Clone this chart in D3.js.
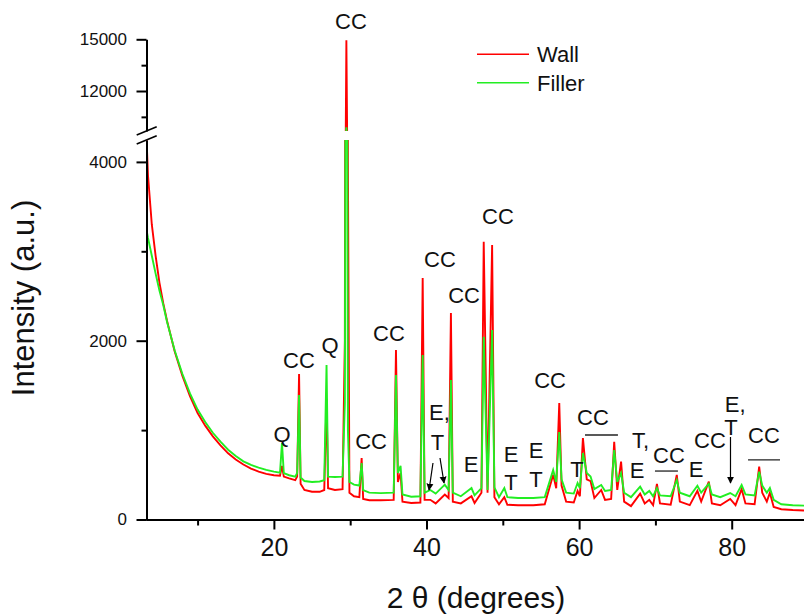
<html>
<head>
<script src="https://cdn.jsdelivr.net/npm/d3@7"></script>
<style>
  body { margin: 0; background: #fff; }
  text { font-family: Arial, "Liberation Sans", sans-serif; fill: #111; }
</style>
</head>
<body>
<div id="chart"></div>
<script>
// XRD patterns, [2 theta, intensity]
var wall = [
  [3.2,4500],[3.5,3850],[4.0,3300],[4.5,2950],[5.0,2650],[5.5,2420],[6.0,2220],[7.0,1880],[8.0,1610],[9.0,1380],
  [10.0,1190],[11.0,1050],[12.0,930],[13.0,830],[14.0,740],[15.0,670],[16.0,615],[17.0,570],[18.0,535],[19.0,510],
  [20.0,495],[20.8,490],[21.06,600],[21.3,480],[22.0,460],[22.8,440],[23.05,480],[23.3,1627],[23.5,400],[24.0,330],
  [25.0,310],[26.0,310],[26.6,330],[26.9,1350],[27.1,350],[28.0,330],[29.0,340],[29.3,2000],[29.5,14950],[29.7,4000],
  [29.9,300],[30.5,260],[31.2,250],[31.5,688],[31.7,230],[32.5,215],[34.0,215],[35.7,220],[36.0,1896],[36.25,420],
  [36.6,520],[36.85,200],[38.0,184],[39.2,190],[39.5,2701],[39.75,220],[40.5,220],[41.2,180],[42.4,280],[42.9,240],
  [43.2,2310],[43.45,200],[44.5,180],[45.9,260],[46.3,185],[47.2,300],[47.5,3107],[48.0,300],[48.6,3070],[48.9,250],
  [49.5,170],[50.2,250],[50.6,165],[52.0,160],[54.0,160],[55.5,170],[56.6,500],[57.0,350],[57.4,1303],[57.7,380],
  [58.3,200],[59.3,190],[59.8,320],[60.1,260],[60.5,911],[61.0,450],[61.5,430],[62.0,240],[62.9,330],[63.4,220],
  [64.2,230],[64.6,870],[65.0,330],[65.5,647],[65.9,200],[66.8,150],[68.0,290],[68.6,180],[69.2,220],[69.7,160],
  [70.2,397],[70.6,180],[72.0,165],[72.8,498],[73.2,200],[74.5,160],[75.5,320],[76.0,200],[77.0,423],[77.4,180],
  [78.5,160],[79.8,230],[80.5,160],[81.3,340],[81.8,180],[83.0,170],[83.6,591],[84.0,300],[84.6,200],[85.0,300],
  [85.5,140],[86.5,115],[88.0,106],[89.5,100]
];
var filler = [
  [3.2,3290],[3.5,3150],[4.0,2950],[4.5,2750],[5.0,2560],[5.5,2400],[6.0,2210],[7.0,1890],[8.0,1630],[9.0,1410],
  [10.0,1230],[11.0,1090],[12.0,970],[13.0,870],[14.0,780],[15.0,710],[16.0,650],[17.0,610],[18.0,580],[19.0,555],
  [20.0,535],[20.8,525],[21.06,855],[21.3,520],[22.0,495],[22.8,480],[23.05,520],[23.3,1392],[23.5,470],[24.0,430],
  [25.0,420],[26.0,425],[26.6,440],[26.9,1728],[27.1,480],[28.0,475],[29.0,480],[29.3,1300],[29.5,9900],[29.7,1000],
  [29.9,420],[30.5,390],[31.2,380],[31.5,632],[31.7,330],[32.5,300],[34.0,295],[35.7,300],[36.0,1616],[36.25,520],
  [36.6,600],[36.85,280],[38.0,255],[39.2,260],[39.5,1840],[39.75,300],[40.5,330],[41.2,290],[42.4,390],[42.9,330],
  [43.2,1560],[43.45,300],[44.5,260],[45.9,352],[46.3,270],[47.2,350],[47.5,2045],[48.0,330],[48.6,2120],[48.9,360],
  [49.5,250],[50.2,352],[50.6,250],[52.0,240],[54.0,240],[55.5,250],[56.6,553],[57.0,420],[57.4,979],[57.7,450],
  [58.3,300],[59.3,290],[59.8,408],[60.1,350],[60.5,744],[61.0,520],[61.5,480],[62.0,340],[62.9,386],[63.4,320],
  [64.2,330],[64.6,777],[65.0,420],[65.5,520],[65.9,300],[66.8,250],[68.0,367],[68.6,280],[69.2,320],[69.7,260],
  [70.2,352],[70.6,270],[72.0,260],[72.8,442],[73.2,300],[74.5,260],[75.5,378],[76.0,300],[77.0,400],[77.4,280],
  [78.5,250],[79.8,296],[80.5,260],[81.3,386],[81.8,280],[83.0,270],[83.6,535],[84.0,380],[84.6,300],[85.0,352],
  [85.5,220],[86.5,170],[88.0,160],[89.5,155]
];

var xTicks = [20, 40, 60, 80];
var xMinor = [10, 30, 50, 70];
var yLowTicks = [0, 2000, 4000];
var yLowMinor = [1000, 3000];
var yHighTicks = [12000, 15000];
var yHighMinor = [10500, 13500];

// phase labels: text, 2theta, intensity, which y segment, anchor
var labels = [
  ["CC", 30.1, 15600, "high", "middle"],
  ["Q", 21.06, 867, "low", "middle"],
  ["CC", 23.29, 1695, "low", "middle"],
  ["Q", 27.35, 1862, "low", "middle"],
  ["CC", 32.73, 789, "low", "middle"],
  ["CC", 35.08, 1997, "low", "middle"],
  ["E,", 40.33, 1113, "low", "start"],
  ["T", 41.44, 777, "low", "middle"],
  ["CC", 41.77, 2824, "low", "middle"],
  ["CC", 44.92, 2422, "low", "middle"],
  ["E", 45.83, 531, "low", "middle"],
  ["CC", 49.37, 3305, "low", "middle"],
  ["E", 51.08, 643, "low", "middle"],
  ["T", 51.08, 330, "low", "middle"],
  ["E", 54.35, 688, "low", "middle"],
  ["T", 54.35, 364, "low", "middle"],
  ["CC", 56.2, 1471, "low", "middle"],
  ["T", 59.72, 475, "low", "middle"],
  ["CC", 61.82, 1057, "low", "middle"],
  ["T,", 66.93, 800, "low", "start"],
  ["E", 67.59, 464, "low", "middle"],
  ["CC", 71.78, 632, "low", "middle"],
  ["E", 75.32, 475, "low", "middle"],
  ["CC", 77.15, 800, "low", "middle"],
  ["E,", 79.1, 1202, "low", "start"],
  ["T", 79.9, 945, "low", "middle"],
  ["CC", 84.23, 856, "low", "middle"]
];
// bars over grouped CC reflections: from, to, level
var bars = [[60.77, 65.09, 945], [69.94, 72.95, 542], [82.14, 86.33, 666]];
// arrows: from [2theta, I] to [2theta, I]
var arrows = [
  [[40.85, 632], [40.33, 330]],
  [[41.77, 688], [42.3, 408]],
  [[79.84, 923], [79.84, 408]]
];

var width = 804, height = 616;
var svg = d3.select("#chart").append("svg")
  .attr("width", width).attr("height", height);

var x = d3.scaleLinear().domain([3.2, 89.5]).range([145.7, 804.2]);
var yLow = d3.scaleLinear().domain([0, 4245]).range([519.5, 140]);
var yHigh = d3.scaleLinear().domain([9680, 15000]).range([131, 39.3]);

var defs = svg.append("defs");
defs.append("clipPath").attr("id", "clipLow").append("rect")
  .attr("x", 146.5).attr("y", 140).attr("width", 660).attr("height", 380);
defs.append("clipPath").attr("id", "clipHigh").append("rect")
  .attr("x", 146.5).attr("y", 20).attr("width", 660).attr("height", 111);

var series = [
  { name: "Wall", data: wall, color: "#ff0000" },
  { name: "Filler", data: filler, color: "#22ee22" }
];

[["clipLow", yLow], ["clipHigh", yHigh]].forEach(function (seg) {
  var g = svg.append("g").attr("clip-path", "url(#" + seg[0] + ")");
  var line = d3.line().x(function (d) { return x(d[0]); })
    .y(function (d) { return seg[1](d[1]); });
  series.forEach(function (s) {
    g.append("path").datum(s.data)
      .attr("d", line)
      .attr("fill", "none")
      .attr("stroke", s.color)
      .attr("stroke-width", 1.9)
      .attr("stroke-linejoin", "miter");
  });
});

// axes
function styleAxis(g, fontSize) {
  g.selectAll("path, line").attr("stroke", "#000").attr("stroke-width", 2);
  g.selectAll("text").style("font-size", fontSize + "px")
    .style("font-family", "Arial, 'Liberation Sans', sans-serif").attr("fill", "#111");
}

var gx = svg.append("g").attr("transform", "translate(0,519.5)")
  .call(d3.axisBottom(x).tickValues(xTicks).tickSize(10).tickSizeOuter(0).tickPadding(8.5)
    .tickFormat(d3.format("d")));
styleAxis(gx, 25);
var gxm = svg.append("g").attr("transform", "translate(0,519.5)")
  .call(d3.axisBottom(x).tickValues(xMinor).tickSize(6).tickFormat(""));
gxm.select(".domain").remove();
styleAxis(gxm, 25);

var gyl = svg.append("g").attr("transform", "translate(146.5,0)")
  .call(d3.axisLeft(yLow).tickValues(yLowTicks).tickSize(10).tickSizeOuter(0).tickPadding(9.5)
    .tickFormat(d3.format("d")));
styleAxis(gyl, 17);
var gylm = svg.append("g").attr("transform", "translate(146.5,0)")
  .call(d3.axisLeft(yLow).tickValues(yLowMinor).tickSize(5).tickFormat(""));
gylm.select(".domain").remove();
styleAxis(gylm, 17);

var gyh = svg.append("g").attr("transform", "translate(146.5,0)")
  .call(d3.axisLeft(yHigh).tickValues(yHighTicks).tickSize(10).tickSizeOuter(0).tickPadding(9.5)
    .tickFormat(d3.format("d")));
styleAxis(gyh, 17);
var gyhm = svg.append("g").attr("transform", "translate(146.5,0)")
  .call(d3.axisLeft(yHigh).tickValues(yHighMinor).tickSize(5).tickFormat(""));
gyhm.select(".domain").remove();
styleAxis(gyhm, 17);

// axis break marks
svg.append("line").attr("x1", 136.7).attr("y1", 135).attr("x2", 156.7).attr("y2", 126.7)
  .attr("stroke", "#000").attr("stroke-width", 1.6);
svg.append("line").attr("x1", 136.7).attr("y1", 144).attr("x2", 156.7).attr("y2", 135.7)
  .attr("stroke", "#000").attr("stroke-width", 1.6);

// axis titles
svg.append("text").attr("x", 476).attr("y", 608)
  .attr("text-anchor", "middle").style("font-size", "30px")
  .text("2 \u03b8 (degrees)");
svg.append("text").attr("transform", "translate(34,298) rotate(-90)")
  .attr("text-anchor", "middle").style("font-size", "31px")
  .text("Intensity (a.u.)");

// phase labels
svg.selectAll(".lbl").data(labels).enter().append("text")
  .attr("class", "lbl")
  .attr("x", function (d) { return x(d[1]); })
  .attr("y", function (d) { return d[3] === "high" ? yHigh(d[2]) : yLow(d[2]); })
  .attr("text-anchor", function (d) { return d[4]; })
  .style("font-size", "22px")
  .text(function (d) { return d[0]; });

svg.selectAll(".bar").data(bars).enter().append("line")
  .attr("x1", function (d) { return x(d[0]); })
  .attr("x2", function (d) { return x(d[1]); })
  .attr("y1", function (d) { return yLow(d[2]); })
  .attr("y2", function (d) { return yLow(d[2]); })
  .attr("stroke", "#222").attr("stroke-width", 1.3);

defs.append("marker").attr("id", "arrow")
  .attr("viewBox", "0 0 10 10").attr("refX", 9).attr("refY", 5)
  .attr("markerWidth", 7).attr("markerHeight", 9).attr("markerUnits", "userSpaceOnUse")
  .attr("orient", "auto")
  .append("path").attr("d", "M0,0 L10,5 L0,10 Z").attr("fill", "#000");

svg.selectAll(".arr").data(arrows).enter().append("line")
  .attr("x1", function (d) { return x(d[0][0]); })
  .attr("y1", function (d) { return yLow(d[0][1]); })
  .attr("x2", function (d) { return x(d[1][0]); })
  .attr("y2", function (d) { return yLow(d[1][1]); })
  .attr("stroke", "#000").attr("stroke-width", 1.2)
  .attr("marker-end", "url(#arrow)");

// legend
var legend = svg.append("g");
series.forEach(function (s, i) {
  var ly = 54.3 + i * 28.4;
  legend.append("line").attr("x1", 477).attr("x2", 529).attr("y1", ly).attr("y2", ly)
    .attr("stroke", s.color).attr("stroke-width", 1.6);
  legend.append("text").attr("x", 537).attr("y", ly + 7.8)
    .style("font-size", "22px").text(s.name);
});
</script>
</body>
</html>
